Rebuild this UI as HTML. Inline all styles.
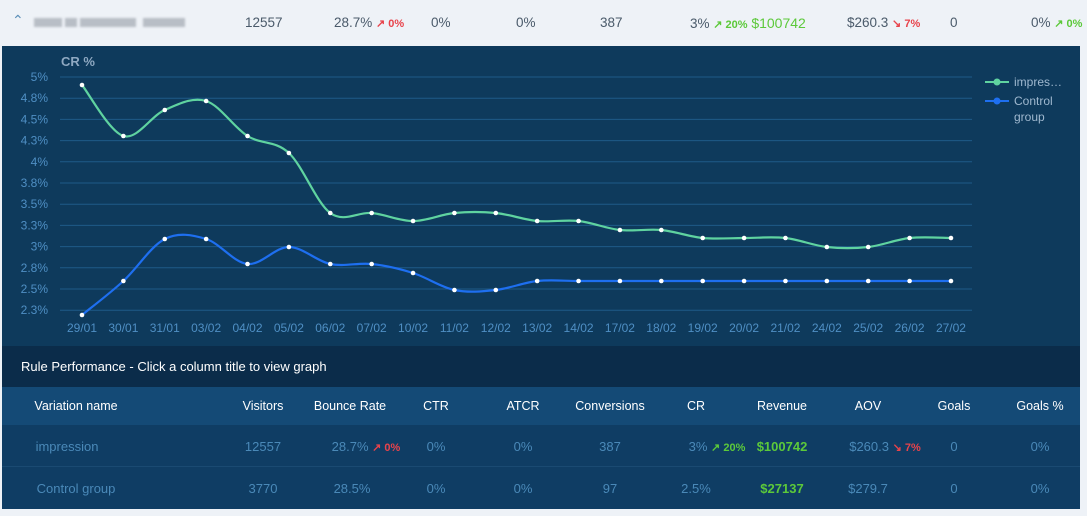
<!DOCTYPE html>
<html><head><meta charset="utf-8"><style>
*{margin:0;padding:0;box-sizing:border-box}
body{width:1087px;height:516px;background:#eef2f7;font-family:"Liberation Sans",sans-serif;position:relative;overflow:hidden}
.abs{position:absolute;white-space:nowrap}
.top{font-size:13.5px;color:#4a5a6a;top:15px}
.blur{background:#b8bec6;height:9px;top:18px;position:absolute;filter:blur(1px)}
.red{color:#e8434b;font-weight:bold;font-size:11px}
.grn{color:#5cc93a;font-weight:bold;font-size:11px}
#chart{position:absolute;left:2px;top:46px;width:1078px;height:300px;background:#0e3a5c}
#title{position:absolute;left:2px;top:346px;width:1078px;height:41px;background:#0b2c4a;color:#fff;font-size:13px;padding:13px 0 0 19px}
#head{position:absolute;left:2px;top:387px;width:1078px;height:38px;background:#144a76}
.row{position:absolute;left:2px;width:1078px;height:42px;background:#0f3d64}
.h{position:absolute;top:12px;color:#fff;font-size:12.5px;transform:translateX(-50%);white-space:nowrap}
.c{position:absolute;top:14px;color:#4a89b8;font-size:13px;transform:translateX(-50%);white-space:nowrap}
</style></head><body>
<div class="abs top" style="left:12px;top:12px;color:#5b8fb8;font-size:14px">&#8963;</div>
<div class="blur" style="left:34px;width:28px"></div><div class="blur" style="left:65px;width:12px"></div><div class="blur" style="left:80px;width:56px"></div><div class="blur" style="left:143px;width:42px"></div>
<div class="abs top" style="left:245px">12557</div>
<div class="abs top" style="left:334px">28.7% <span class="red">↗ 0%</span></div>
<div class="abs top" style="left:431px">0%</div>
<div class="abs top" style="left:516px">0%</div>
<div class="abs top" style="left:600px">387</div>
<div class="abs top" style="left:690px">3% <span class="grn">↗ 20%</span> <span style="color:#5cc93a;font-size:14px">$100742</span></div>
<div class="abs top" style="left:847px">$260.3 <span class="red">↘ 7%</span></div>
<div class="abs top" style="left:950px">0</div>
<div class="abs top" style="left:1031px">0% <span class="grn">↗ 0%</span></div>

<div id="chart"></div>
<svg id="svg" width="1087" height="516" style="position:absolute;left:0;top:0" font-family="Liberation Sans, sans-serif"></svg>

<div id="title">Rule Performance - Click a column title to view graph</div>
<div id="head">
<div class="h" style="left:74px">Variation name</div>
<div class="h" style="left:261px">Visitors</div>
<div class="h" style="left:348px">Bounce Rate</div>
<div class="h" style="left:434px">CTR</div>
<div class="h" style="left:521px">ATCR</div>
<div class="h" style="left:608px">Conversions</div>
<div class="h" style="left:694px">CR</div>
<div class="h" style="left:780px">Revenue</div>
<div class="h" style="left:866px">AOV</div>
<div class="h" style="left:952px">Goals</div>
<div class="h" style="left:1038px">Goals %</div>
</div>
<div class="row" style="top:425px;border-bottom:1px solid #1a4a72">
<div class="c" style="left:65px">impression</div>
<div class="c" style="left:261px">12557</div>
<div class="c" style="left:364px">28.7% <span class="red">↗ 0%</span></div>
<div class="c" style="left:434px">0%</div>
<div class="c" style="left:521px">0%</div>
<div class="c" style="left:608px">387</div>
<div class="c" style="left:715px">3% <span class="grn">↗ 20%</span></div>
<div class="c" style="left:780px;color:#5cc93a;font-weight:bold">$100742</div>
<div class="c" style="left:883px">$260.3 <span class="red">↘ 7%</span></div>
<div class="c" style="left:952px">0</div>
<div class="c" style="left:1038px">0%</div>
</div>
<div class="row" style="top:467px">
<div class="c" style="left:74px">Control group</div>
<div class="c" style="left:261px">3770</div>
<div class="c" style="left:350px">28.5%</div>
<div class="c" style="left:434px">0%</div>
<div class="c" style="left:521px">0%</div>
<div class="c" style="left:608px">97</div>
<div class="c" style="left:694px">2.5%</div>
<div class="c" style="left:780px;color:#5cc93a;font-weight:bold">$27137</div>
<div class="c" style="left:866px">$279.7</div>
<div class="c" style="left:952px">0</div>
<div class="c" style="left:1038px">0%</div>
</div>
<script>
var s=document.getElementById('svg'),h='';
h+='<text x="61" y="66" fill="#8fa9c2" font-size="13" font-weight="bold">CR %</text>';
var yl=['5%','4.8%','4.5%','4.3%','4%','3.8%','3.5%','3.3%','3%','2.8%','2.5%','2.3%'];
for(var i=0;i<12;i++){var y=77+i*21.2;h+='<line x1="60" x2="972" y1="'+y+'" y2="'+y+'" stroke="#1f5a88" stroke-width="1"/>';
h+='<text x="48" y="'+(y+4)+'" fill="#4f8fc4" font-size="12" text-anchor="end">'+yl[i]+'</text>';}
var xl=['29/01','30/01','31/01','03/02','04/02','05/02','06/02','07/02','10/02','11/02','12/02','13/02','14/02','17/02','18/02','19/02','20/02','21/02','24/02','25/02','26/02','27/02'];
var X=[];for(i=0;i<22;i++){X.push(82+i*41.38);h+='<text x="'+X[i]+'" y="332" fill="#4f8fc4" font-size="12" text-anchor="middle">'+xl[i]+'</text>';}
var G=[85,136,110,101,136,153,213,213,221,213,213,221,221,230,230,238,238,238,247,247,238,238];
var B=[315,281,239,239,264,247,264,264,273,290,290,281,281,281,281,281,281,281,281,281,281,281];
function path(Y){var d='M'+X[0]+','+Y[0];for(var i=0;i<Y.length-1;i++){var p0=i?i-1:0,p3=i+2<Y.length?i+2:i+1;
var c1x=X[i]+(X[i+1]-X[p0])/6,c1y=Y[i]+(Y[i+1]-Y[p0])/6,c2x=X[i+1]-(X[p3]-X[i])/6,c2y=Y[i+1]-(Y[p3]-Y[i])/6;
d+=' C'+c1x+','+c1y+' '+c2x+','+c2y+' '+X[i+1]+','+Y[i+1];}return d;}
[[G,'#5fd3a0'],[B,'#1e6ff0']].forEach(function(a){h+='<path d="'+path(a[0])+'" fill="none" stroke="'+a[1]+'" stroke-width="2.2"/>';
a[0].forEach(function(y,i){h+='<circle cx="'+X[i]+'" cy="'+y+'" r="2.3" fill="#fff"/>';});});
h+='<line x1="985" x2="1009" y1="82" y2="82" stroke="#5fd3a0" stroke-width="2"/><circle cx="997" cy="82" r="3.5" fill="#5fd3a0"/>';
h+='<text x="1014" y="86" fill="#9fb8cf" font-size="12">impres…</text>';
h+='<line x1="985" x2="1009" y1="101" y2="101" stroke="#1e6ff0" stroke-width="2"/><circle cx="997" cy="101" r="3.5" fill="#1e6ff0"/>';
h+='<text x="1014" y="105" fill="#9fb8cf" font-size="12">Control</text><text x="1014" y="121" fill="#9fb8cf" font-size="12">group</text>';
s.innerHTML=h;
</script>
</body></html>
